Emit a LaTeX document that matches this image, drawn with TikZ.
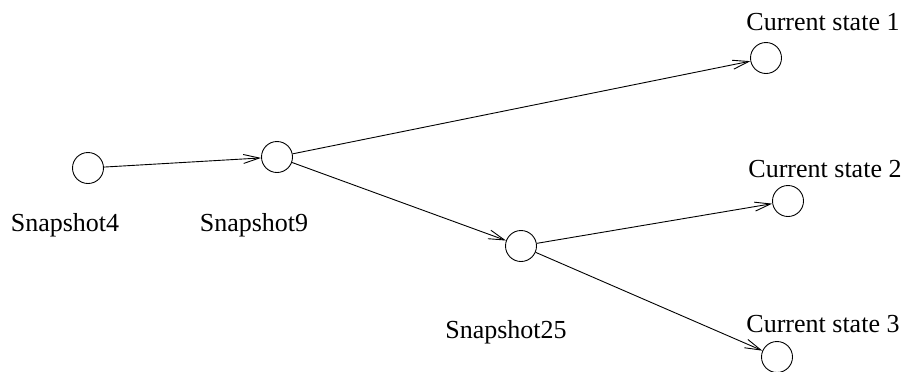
\documentclass[tikz,border=0pt]{standalone}
\usepackage{fontspec}
\setmainfont{Liberation Serif}
\usetikzlibrary{arrows.meta}
\begin{document}
\begin{tikzpicture}[x=1bp,y=-1bp,
  state/.style={circle,draw,line width=0.9bp,minimum size=31bp,inner sep=0pt,outer sep=0.5bp},
  lbl/.style={anchor=base,inner sep=0pt,font=\fontsize{26bp}{30bp}\selectfont},
  conn/.style={line width=0.9bp,-{Straight Barb[length=16bp,width=9bp,line width=0.9bp]}}]
\useasboundingbox (0,0) rectangle (909,371);
\node[state] (s4) at (88,168) {};
\node[state] (s9) at (277,157) {};
\node[state] (s25) at (521,246) {};
\node[state] (c1) at (766,58) {};
\node[state] (c2) at (788,201) {};
\node[state] (c3) at (777,357) {};
\node[lbl] (l4) at (65,231) {Snapshot4};
\node[lbl] (l9) at (254,231) {Snapshot9};
\node[lbl] (l25) at (506,338) {Snapshot25};
\node[lbl] (lc1) at (823,30) {Current state 1};
\node[lbl] (lc2) at (825,177) {Current state 2};
\node[lbl] (lc3) at (823,332) {Current state 3};
\draw[conn] (s4) -- (s9);
\draw[conn] (s9) -- (c1);
\draw[conn] (s9) -- (s25);
\draw[conn] (s25) -- (c2);
\draw[conn] (s25) -- (c3);
\end{tikzpicture}
\end{document}
